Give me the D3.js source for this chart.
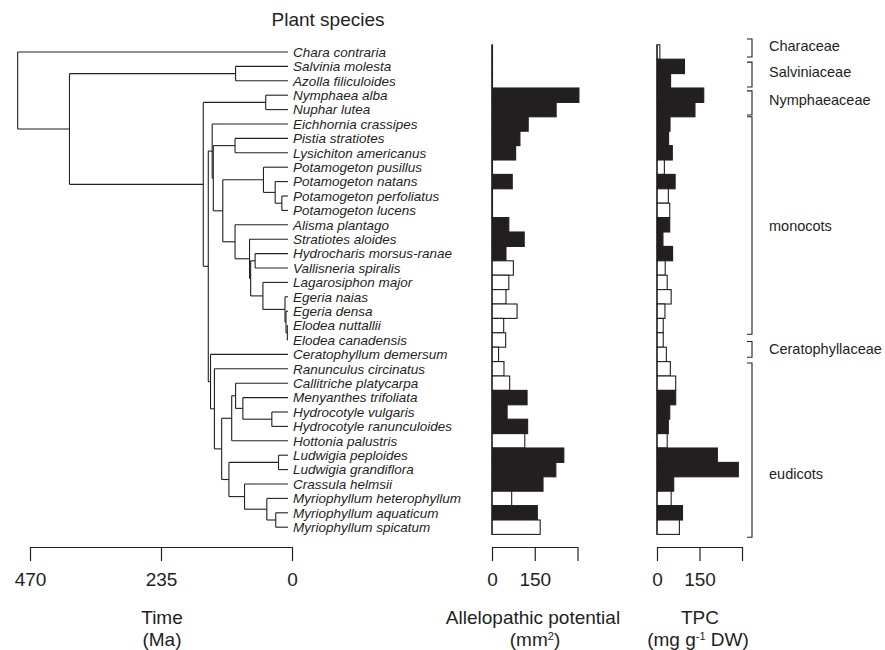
<!DOCTYPE html>
<html lang="en">
<head>
<meta charset="UTF-8">
<title>Plant species</title>
<script src="https://d3js.org/d3.v7.min.js"></script>
<style>
  body { margin: 0; background: #fff; }
  svg { font-family: "Liberation Sans", Arial, sans-serif; }
  .axis path, .axis line { stroke: #231f20; stroke-width: 1.2; }
  .axis text { font-size: 19px; fill: #231f20; }
</style>
</head>
<body>
<svg id="chart" width="885" height="650"></svg>
<script>
// species, top to bottom
const species = [
  "Chara contraria", "Salvinia molesta", "Azolla filiculoides", "Nymphaea alba",
  "Nuphar lutea", "Eichhornia crassipes", "Pistia stratiotes", "Lysichiton americanus",
  "Potamogeton pusillus", "Potamogeton natans", "Potamogeton perfoliatus", "Potamogeton lucens",
  "Alisma plantago", "Stratiotes aloides", "Hydrocharis morsus-ranae", "Vallisneria spiralis",
  "Lagarosiphon major", "Egeria naias", "Egeria densa", "Elodea nuttallii",
  "Elodea canadensis", "Ceratophyllum demersum", "Ranunculus circinatus", "Callitriche platycarpa",
  "Menyanthes trifoliata", "Hydrocotyle vulgaris", "Hydrocotyle ranunculoides", "Hottonia palustris",
  "Ludwigia peploides", "Ludwigia grandiflora", "Crassula helmsii", "Myriophyllum heterophyllum",
  "Myriophyllum aquaticum", "Myriophyllum spicatum"
];

// allelopathic potential (mm2)
const allelo = [0, 0, 0, 305, 225, 127, 98, 83, 0, 71, 0, 0, 59, 113, 49, 75, 59, 49, 88, 41,
  48, 23, 42, 62, 123, 53, 125, 115, 252, 224, 179, 69, 159, 169];

// total phenolic content (mg g-1 DW)
const tpc = [10, 97, 48, 165, 134, 46, 41, 54, 26, 64, 40, 45, 45, 21, 55, 29, 36, 50, 28, 22,
  22, 33, 47, 66, 66, 45, 40, 36, 213, 287, 59, 50, 90, 79];

// 1 = black bar, 0 = open bar
const filled = [0, 1, 1, 1, 1, 1, 1, 1, 0, 1, 0, 0, 1, 1, 1, 0, 0, 0, 0, 0,
  0, 0, 0, 0, 1, 1, 1, 0, 1, 1, 1, 0, 1, 0];

// tree: node id, parent id, age (Ma); leaves are the species names
const nodeIds = ["root", "Chara contraria", "land", "salv", "Salvinia molesta", "Azolla filiculoides",
  "angio", "nymph", "Nymphaea alba", "Nuphar lutea", "meso", "mono", "Eichhornia crassipes", "mono2",
  "arac", "Pistia stratiotes", "Lysichiton americanus", "alism", "pota", "Potamogeton pusillus",
  "pota2", "Potamogeton natans", "pota3", "Potamogeton perfoliatus", "Potamogeton lucens",
  "hydal", "Alisma plantago", "hydro", "Stratiotes aloides", "hydro2", "hv", "Hydrocharis morsus-ranae",
  "Vallisneria spiralis", "lee", "Lagarosiphon major", "ee", "Egeria naias", "ee2", "Egeria densa",
  "ee3", "Elodea nuttallii", "Elodea canadensis", "cereud", "Ceratophyllum demersum", "eud",
  "Ranunculus circinatus", "core", "ast", "ast2", "Callitriche platycarpa", "ast3",
  "Menyanthes trifoliata", "hydc", "Hydrocotyle vulgaris", "Hydrocotyle ranunculoides",
  "Hottonia palustris", "ros", "ludw", "Ludwigia peploides", "Ludwigia grandiflora", "ros2",
  "Crassula helmsii", "myr", "Myriophyllum heterophyllum", "myr2", "Myriophyllum aquaticum",
  "Myriophyllum spicatum"];
const nodeParents = [null, "root", "root", "land", "salv", "salv",
  "land", "angio", "nymph", "nymph", "angio", "meso", "mono", "mono",
  "mono2", "arac", "arac", "mono2", "alism", "pota",
  "pota", "pota2", "pota2", "pota3", "pota3",
  "alism", "hydal", "hydal", "hydro", "hydro", "hydro2", "hv",
  "hv", "hydro2", "lee", "lee", "ee", "ee", "ee2",
  "ee2", "ee3", "ee3", "meso", "cereud", "cereud",
  "eud", "eud", "core", "ast", "ast2", "ast2",
  "ast3", "ast3", "hydc", "hydc",
  "ast", "core", "ros", "ludw", "ludw", "ros",
  "ros2", "ros2", "myr", "myr", "myr2",
  "myr2"];
const nodeAges = [485, 0, 392, 94, 0, 0,
  152, 40, 0, 0, 143, 136, 0, 134,
  95, 0, 0, 117, 44, 0,
  23, 0, 11, 0, 0,
  95, 0, 69, 0, 67, 59, 0,
  0, 45, 0, 5.4, 0, 3.6, 0,
  1.2, 0, 0, 139, 0, 132,
  0, 119, 101, 94, 0, 81,
  0, 29, 0, 0,
  0, 106, 17, 0, 0, 78,
  0, 38, 0, 22, 0,
  0];

// family brackets: name, bracket start and end (in rows), row where the label sits
const families = [
  ["Characeae", -0.4, 0.85, -0.4],
  ["Salviniaceae", 1.2, 2.93, 1.4],
  ["Nymphaeaceae", 3.2, 4.87, 3.3],
  ["monocots", 5.0, 20.1, 12.1],
  ["Ceratophyllaceae", 20.6, 21.7, 20.6],
  ["eudicots", 22.1, 34.2, 29.3]
];

const timeTicks = [470, 235, 0];
const valueTicks = [0, 150, 300];

const ink = "#231f20";
const svg = d3.select("#chart");

// scales
const y = d3.scaleBand().domain(species).range([44.8, 534.4]);
const bw = y.bandwidth();
const yc = s => y(s) + bw / 2;
const rowTop = r => y.range()[0] + bw * r;

const xTime = d3.scaleLinear().domain([470, 0]).range([30, 292]);
const xTree = d3.scaleLinear().domain([470, 0]).range([26, 288]);
const xAllelo = d3.scaleLinear().domain([0, 300]).range([492, 577.5]);
const xTpc = d3.scaleLinear().domain([0, 300]).range([657, 742]);

// title
svg.append("text")
  .attr("x", 328).attr("y", 26)
  .attr("text-anchor", "middle")
  .style("font-size", "19px").style("fill", ink)
  .text("Plant species");

// tree
const table = nodeIds.map((id, i) => ({ id: id, parent: nodeParents[i], age: nodeAges[i] }));
const root = d3.stratify().id(d => d.id).parentId(d => d.parent)(table);
root.eachAfter(n => {
  n.py = n.children ? d3.mean(n.children, c => c.py) : yc(n.id);
});

const tree = svg.append("g").attr("fill", "none").attr("stroke", ink).attr("stroke-width", 1.1);
root.descendants().forEach(n => {
  if (n.parent) {
    tree.append("line")
      .attr("x1", xTree(n.parent.data.age)).attr("x2", xTree(n.data.age))
      .attr("y1", n.py).attr("y2", n.py);
  }
  if (n.children) {
    const ys = n.children.map(c => c.py);
    tree.append("line")
      .attr("x1", xTree(n.data.age)).attr("x2", xTree(n.data.age))
      .attr("y1", d3.min(ys)).attr("y2", d3.max(ys));
  }
});

// species labels
svg.append("g").selectAll("text")
  .data(species)
  .join("text")
  .attr("x", 293)
  .attr("y", d => yc(d))
  .attr("dy", "0.36em")
  .style("font-size", "13.5px")
  .style("font-style", "italic")
  .style("fill", ink)
  .text(d => d);

// bar panels
function barPanel(values, xs) {
  const g = svg.append("g");
  g.selectAll("rect")
    .data(species)
    .join("rect")
    .attr("x", xs(0))
    .attr("y", d => y(d))
    .attr("width", (d, i) => Math.max(xs(values[i]) - xs(0), 0.5))
    .attr("height", bw)
    .attr("fill", (d, i) => filled[i] ? ink : "#fff")
    .attr("stroke", ink)
    .attr("stroke-width", 1.1);
  g.append("line")
    .attr("x1", xs(0)).attr("x2", xs(0))
    .attr("y1", y.range()[0]).attr("y2", y.range()[1])
    .attr("stroke", ink).attr("stroke-width", 1.2);
}
barPanel(allelo, xAllelo);
barPanel(tpc, xTpc);

// bottom axes
const axisY = 547;
svg.append("g").attr("class", "axis")
  .attr("transform", `translate(0,${axisY})`)
  .call(d3.axisBottom(xTime).tickValues(timeTicks).tickSize(14).tickSizeOuter(0).tickPadding(12));

[xAllelo, xTpc].forEach(xs => {
  svg.append("g").attr("class", "axis")
    .attr("transform", `translate(0,${axisY})`)
    .call(d3.axisBottom(xs).tickValues(valueTicks).tickSize(14).tickSizeOuter(0).tickPadding(12)
      .tickFormat(v => v === 300 ? "" : v));
});

// axis titles
function title(x, yy, parts) {
  const t = svg.append("text")
    .attr("x", x).attr("y", yy)
    .attr("text-anchor", "middle")
    .style("font-size", "19px").style("fill", ink);
  parts.forEach(p => {
    const s = t.append("tspan").text(p[0]);
    if (p[1]) s.attr("dy", -6).style("font-size", "11px");
    if (p[2]) s.attr("dy", 6);
  });
}
title(162, 624, [["Time"]]);
title(162, 646, [["(Ma)"]]);
title(533, 624, [["Allelopathic potential"]]);
title(535, 646, [["(mm"], ["2", true], [")", false, true]]);
title(700, 624, [["TPC"]]);
title(698, 646, [["(mg g"], ["-1", true], [" DW)", false, true]]);

// family brackets
const fam = svg.append("g");
families.forEach(f => {
  const top = rowTop(f[1]);
  const bot = rowTop(f[2]);
  fam.append("path")
    .attr("d", `M747,${top}H752V${bot}H747`)
    .attr("fill", "none").attr("stroke", ink).attr("stroke-width", 1.1);
  fam.append("text")
    .attr("x", 769).attr("y", rowTop(f[3] + 0.5))
    .attr("dy", "0.36em")
    .style("font-size", "14.5px").style("fill", ink)
    .text(f[0]);
});
</script>
</body>
</html>
